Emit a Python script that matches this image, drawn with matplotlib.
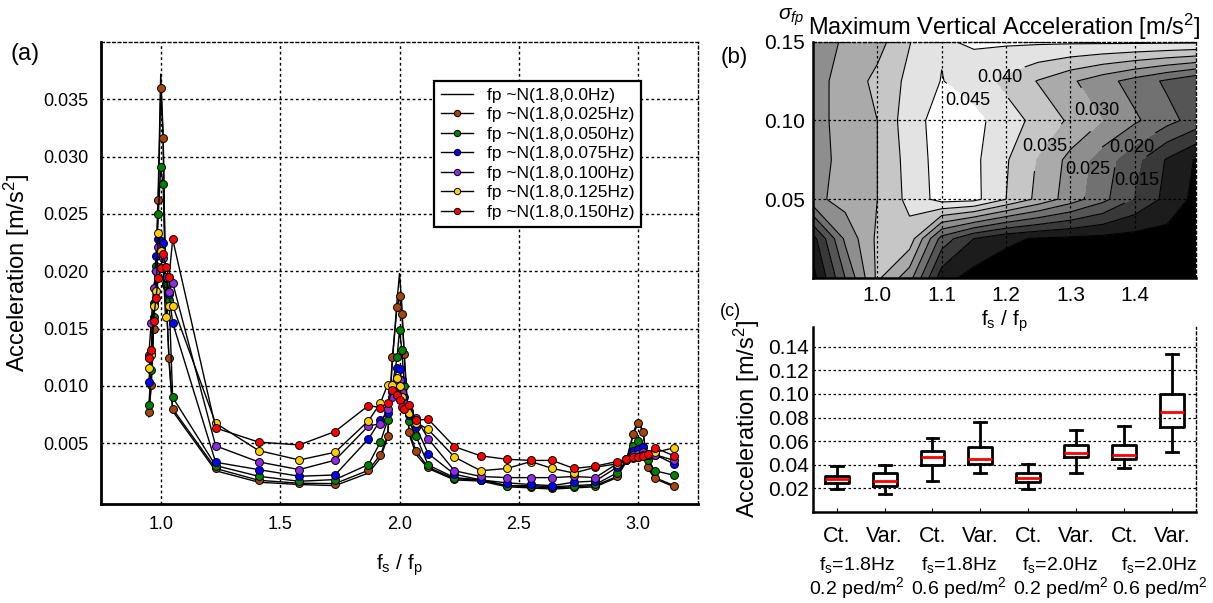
import numpy as np
import matplotlib
matplotlib.use('Agg')
import matplotlib.pyplot as plt

# Plot settings
plt.rcParams['font.family'] = ['Liberation Sans', 'DejaVu Sans']
plt.rcParams['mathtext.fontset'] = 'custom'
plt.rcParams['mathtext.rm'] = 'Liberation Sans'
plt.rcParams['mathtext.it'] = 'Liberation Sans:italic'
plt.rcParams['mathtext.default'] = 'regular'

# ---- (a) acceleration vs fs/fp for several fp spreads ----
x_ratio = [0.95, 0.96, 0.97, 0.98, 0.99, 1.00, 1.01, 1.02, 1.035, 1.05,
           1.23, 1.41, 1.58, 1.73, 1.87,
           1.92, 1.95, 1.97, 1.99, 2.00, 2.01, 2.02, 2.04, 2.07, 2.12,
           2.23, 2.34, 2.45, 2.55, 2.64, 2.73, 2.82,
           2.91, 2.95, 2.98, 3.00, 3.02, 3.04, 3.07, 3.15]

acc_000 = [0.0073, 0.0100, 0.0150, 0.0205, 0.0275, 0.0372, 0.0320, 0.0190, 0.0120, 0.0078,
           0.0026, 0.0016, 0.0014, 0.0013, 0.0024,
           0.0037, 0.0055, 0.0120, 0.0175, 0.0198, 0.0170, 0.0125, 0.0058, 0.0040, 0.0028,
           0.0018, 0.0017, 0.0012, 0.0011, 0.0010, 0.0011, 0.0012,
           0.0020, 0.0034, 0.0060, 0.0070, 0.0060, 0.0028, 0.0019, 0.0012]
acc_025 = [0.0077, 0.0101, 0.0150, 0.0200, 0.0262, 0.0360, 0.0316, 0.0188, 0.0124, 0.0080,
           0.0028, 0.00177, 0.00151, 0.00148, 0.00264,
           0.0040, 0.0056, 0.0125, 0.0169, 0.0178, 0.0163, 0.0128, 0.0060, 0.0043, 0.0029,
           0.0019, 0.0018, 0.0013, 0.0012, 0.0011, 0.0012, 0.0013,
           0.0021, 0.0035, 0.0058, 0.0068, 0.0060, 0.0029, 0.0020, 0.0013]
acc_050 = [0.0083, 0.0114, 0.0160, 0.0205, 0.0250, 0.0291, 0.0276, 0.0190, 0.0175, 0.0090,
           0.00305, 0.00212, 0.00168, 0.00183, 0.00314,
           0.0051, 0.0070, 0.0100, 0.0125, 0.0149, 0.0131, 0.0100, 0.0069, 0.0056, 0.0031,
           0.0020, 0.0018, 0.0013, 0.0013, 0.0012, 0.0013, 0.0014,
           0.0024, 0.0035, 0.0048, 0.0052, 0.0047, 0.0035, 0.0026, 0.0022]
acc_075 = [0.0103, 0.0128, 0.0172, 0.0213, 0.0228, 0.0226, 0.0225, 0.0194, 0.0180, 0.0155,
           0.00334, 0.0027, 0.00212, 0.00223, 0.00538,
           0.0070, 0.0076, 0.0095, 0.0116, 0.0115, 0.0105, 0.0090, 0.0075, 0.0064, 0.0041,
           0.0023, 0.0018, 0.00154, 0.0014, 0.0013, 0.0016, 0.0017,
           0.0029, 0.0036, 0.0043, 0.0045, 0.0047, 0.0040, 0.0040, 0.0032]
acc_100 = [0.0127, 0.0155, 0.0185, 0.0200, 0.0221, 0.0215, 0.0212, 0.0195, 0.0182, 0.0190,
           0.00477, 0.00337, 0.0027, 0.00352, 0.00651,
           0.0067, 0.0080, 0.0090, 0.0100, 0.0105, 0.0095, 0.0085, 0.0078, 0.0072, 0.0054,
           0.0026, 0.0021, 0.0020, 0.0020, 0.0020, 0.0021, 0.0020,
           0.0032, 0.0036, 0.0040, 0.0041, 0.0042, 0.0040, 0.0040, 0.0035]
acc_125 = [0.0116, 0.0127, 0.0170, 0.0183, 0.0233, 0.0218, 0.0205, 0.0160, 0.0170, 0.0170,
           0.00675, 0.00436, 0.00354, 0.00421, 0.00695,
           0.0085, 0.0101, 0.0101, 0.0107, 0.0100, 0.0090, 0.0080, 0.0076, 0.0068, 0.0062,
           0.0038, 0.0026, 0.0028, 0.0034, 0.0028, 0.0024, 0.0029,
           0.0032, 0.0035, 0.0037, 0.0038, 0.0040, 0.0041, 0.0042, 0.0046]
acc_150 = [0.0124, 0.0131, 0.0157, 0.0177, 0.0194, 0.0203, 0.0215, 0.0204, 0.0195, 0.0228,
           0.00633, 0.0051, 0.00485, 0.00602, 0.00829,
           0.0081, 0.0085, 0.0096, 0.0092, 0.0088, 0.0082, 0.0080, 0.0083, 0.0070, 0.0071,
           0.0047, 0.0039, 0.0036, 0.0035, 0.0035, 0.0028, 0.0030,
           0.0034, 0.0036, 0.0038, 0.0038, 0.0039, 0.0041, 0.0046, 0.0039]

series_labels = ['fp ~N(1.8,0.0Hz)', 'fp ~N(1.8,0.025Hz)', 'fp ~N(1.8,0.050Hz)',
                 'fp ~N(1.8,0.075Hz)', 'fp ~N(1.8,0.100Hz)', 'fp ~N(1.8,0.125Hz)',
                 'fp ~N(1.8,0.150Hz)']
marker_colors = ['#A5450D', '#008000', '#0000FF', '#8B2BE2', '#FFD000', '#FF0000']

# ---- (b) contour: max vertical acceleration ----
fs_grid = [0.90, 0.95, 1.00, 1.05, 1.10, 1.15, 1.20, 1.25, 1.30, 1.35, 1.40, 1.45, 1.50]
sigma_grid = [0.0, 0.025, 0.05, 0.075, 0.10, 0.125, 0.15]
max_acc = [
    [0.003, 0.020, 0.036, 0.027, 0.007, 0.003, 0.002, 0.002, 0.002, 0.002, 0.002, 0.002, 0.002],
    [0.008, 0.026, 0.036, 0.038, 0.018, 0.010, 0.006, 0.0045, 0.004, 0.0035, 0.003, 0.003, 0.003],
    [0.0285, 0.032, 0.035, 0.0415, 0.047, 0.0465, 0.0400, 0.0337, 0.0276, 0.0215, 0.0145, 0.0085, 0.003],
    [0.028, 0.0315, 0.035, 0.042, 0.0472, 0.0462, 0.0405, 0.0345, 0.0285, 0.0225, 0.0165, 0.0095, 0.004],
    [0.0285, 0.0315, 0.035, 0.043, 0.047, 0.0465, 0.0425, 0.0383, 0.0342, 0.0300, 0.0258, 0.0217, 0.0175],
    [0.0285, 0.0315, 0.0365, 0.0412, 0.0452, 0.0425, 0.0386, 0.0347, 0.0308, 0.0269, 0.0230, 0.0191, 0.0152],
    [0.028, 0.0305, 0.033, 0.0398, 0.0445, 0.0456, 0.0458, 0.0458, 0.0458, 0.0459, 0.0460, 0.0460, 0.0460],
]
fill_levels = [0.0, 0.005, 0.010, 0.015, 0.020, 0.025, 0.030, 0.035, 0.040, 0.045, 0.060]
plain_levels = [0.005, 0.010]
label_levels = [0.015, 0.020, 0.025, 0.030, 0.035, 0.040, 0.045]

# ---- (c) box plots ----
box_labels = ['Ct.', 'Var.', 'Ct.', 'Var.', 'Ct.', 'Var.', 'Ct.', 'Var.']
whis_lo = [0.0192, 0.0155, 0.0262, 0.0333, 0.0192, 0.0333, 0.0375, 0.0506]
q1 = [0.0242, 0.0220, 0.0400, 0.0408, 0.0256, 0.0467, 0.0451, 0.0718]
med = [0.0276, 0.0262, 0.0462, 0.0453, 0.0290, 0.0501, 0.0487, 0.0850]
q3 = [0.0304, 0.0333, 0.0515, 0.0549, 0.0333, 0.0571, 0.0569, 0.1002]
whis_hi = [0.0394, 0.0397, 0.0628, 0.0760, 0.0408, 0.0698, 0.0726, 0.1340]
group_line1 = ['f$_s$=1.8Hz', 'f$_s$=1.8Hz', 'f$_s$=2.0Hz', 'f$_s$=2.0Hz']
group_line2 = ['0.2 ped/m$^2$', '0.6 ped/m$^2$', '0.2 ped/m$^2$', '0.6 ped/m$^2$']

DOT = (0, (2, 2))

fig = plt.figure(figsize=(12.13, 6.03), dpi=100)

# Panel (a)
ax = fig.add_axes([0.0833, 0.1642, 0.4921, 0.7662])
ax.plot(x_ratio, acc_000, color='k', lw=1.0, label=series_labels[0])
for vals, col, lab in zip([acc_025, acc_050, acc_075, acc_100, acc_125, acc_150],
                          marker_colors, series_labels[1:]):
    ax.plot(x_ratio, vals, '-o', color='k', lw=1.0, mfc=col, mec='k', ms=5.7, mew=0.7, label=lab)
ax.set_xlim(0.75, 3.25)
ax.set_ylim(-0.0003, 0.040)
ax.set_xticks([1.0, 1.5, 2.0, 2.5, 3.0])
ax.set_xticklabels(['1.0', '1.5', '2.0', '2.5', '3.0'])
ax.set_yticks([0.005, 0.010, 0.015, 0.020, 0.025, 0.030, 0.035])
ax.set_yticklabels(['0.005', '0.010', '0.015', '0.020', '0.025', '0.030', '0.035'])
ax.tick_params(labelsize=13, length=0, pad=9)
ax.grid(True, ls=DOT, color='k', lw=1.0)
for s in ['left', 'bottom']:
    ax.spines[s].set_linewidth(2.0)
for s in ['top', 'right']:
    ax.spines[s].set_linestyle(DOT)
    ax.spines[s].set_linewidth(1.0)
ax.set_xlabel('f$_s$ / f$_p$', fontsize=15, labelpad=14)
ax.set_ylabel('Acceleration [m/s$^2$]', fontsize=17, labelpad=8)
leg = ax.legend(loc='upper left', bbox_to_anchor=(0.544, 0.935), fontsize=12.5,
                fancybox=False, framealpha=1, edgecolor='k', labelspacing=0.25,
                handlelength=1.8, borderpad=0.4, markerscale=0.8)
leg.get_frame().set_linewidth(1.6)
fig.text(0.021, 0.91, '(a)', fontsize=17, ha='center', va='center')

# Panel (b)
axb = fig.add_axes([0.6702, 0.539, 0.3158, 0.3918])
band_colors = [str(v) for v in np.linspace(0, 1, len(fill_levels) - 1)]
axb.contourf(fs_grid, sigma_grid, max_acc, levels=fill_levels, colors=band_colors)
axb.contour(fs_grid, sigma_grid, max_acc, levels=plain_levels, colors='k', linewidths=0.8)
cs = axb.contour(fs_grid, sigma_grid, max_acc, levels=label_levels, colors='k', linewidths=0.8)
axb.set_xlim(0.9, 1.495)
axb.set_ylim(0, 0.15)
axb.clabel(cs, fmt='%.3f', fontsize=13, inline=True,
           manual=[(1.400, 0.062), (1.395, 0.083), (1.327, 0.069), (1.329, 0.103),
                   (1.262, 0.083), (1.185, 0.130), (1.140, 0.112)])
for t in axb.texts:
    t.set_rotation(0)
axb.set_xticks([1.0, 1.1, 1.2, 1.3, 1.4])
axb.set_xticklabels(['1.0', '1.1', '1.2', '1.3', '1.4'])
axb.set_yticks([0.05, 0.10, 0.15])
axb.set_yticklabels(['0.05', '0.10', '0.15'])
axb.tick_params(labelsize=15, length=0, pad=6)
axb.grid(True, ls=DOT, color='k', lw=0.9)
axb.set_axisbelow(False)
for s in ['left', 'bottom']:
    axb.spines[s].set_linewidth(1.8)
for s in ['top', 'right']:
    axb.spines[s].set_linestyle(DOT)
    axb.spines[s].set_linewidth(1.0)
axb.set_xlabel('f$_s$ / f$_p$', fontsize=15, labelpad=2)
axb.set_title('Maximum Vertical Acceleration [m/s$^2$]', fontsize=17, pad=5)
fig.text(0.652, 0.972, r'$\mathit{\sigma}_{\mathit{fp}}$', fontsize=15, ha='center', va='center')
fig.text(0.605, 0.905, '(b)', fontsize=16, ha='center', va='center')

# Panel (c)
axc = fig.add_axes([0.6700, 0.1509, 0.3160, 0.3073])
axc.patch.set_visible(False)
stats = [dict(whislo=a, q1=b, med=c, q3=d, whishi=e, fliers=[])
         for a, b, c, d, e in zip(whis_lo, q1, med, q3, whis_hi)]
pos = np.arange(1, 9)
axc.bxp(stats, positions=pos, widths=0.5, capwidths=0.25, showfliers=False,
        boxprops=dict(color='k', lw=2.0), medianprops=dict(color='r', lw=2.0),
        whiskerprops=dict(color='k', lw=2.0, ls='-'), capprops=dict(color='k', lw=2.0))
axc.set_xlim(0.5, 8.5)
axc.set_ylim(0, 0.157)
axc.set_xticks(pos)
axc.set_xticklabels(box_labels)
axc.set_yticks([0.02, 0.04, 0.06, 0.08, 0.10, 0.12, 0.14])
axc.set_yticklabels(['0.02', '0.04', '0.06', '0.08', '0.10', '0.12', '0.14'])
axc.tick_params(axis='y', labelsize=15, length=0, pad=3)
axc.tick_params(axis='x', labelsize=15.5, length=3, direction='in', pad=10)
axc.yaxis.grid(True, ls=DOT, color='k', lw=0.9)
axc.set_axisbelow(True)
axc.spines['top'].set_visible(False)
axc.spines['right'].set_linestyle(DOT)
axc.spines['right'].set_linewidth(1.0)
for s in ['left', 'bottom']:
    axc.spines[s].set_linewidth(1.8)
axc.set_ylabel('Acceleration [m/s$^2$]', fontsize=17, labelpad=4)
for gx, l1, l2 in zip([1.42, 3.56, 5.67, 7.74], group_line1, group_line2):
    axc.text(gx, -0.285, l1, transform=axc.get_xaxis_transform(), fontsize=14,
             ha='center', va='center')
    axc.text(gx, -0.41, l2, transform=axc.get_xaxis_transform(), fontsize=14,
             ha='center', va='center')
fig.text(0.602, 0.483, '(c)', fontsize=13, ha='center', va='center')

fig.savefig('out.png', dpi=100)
